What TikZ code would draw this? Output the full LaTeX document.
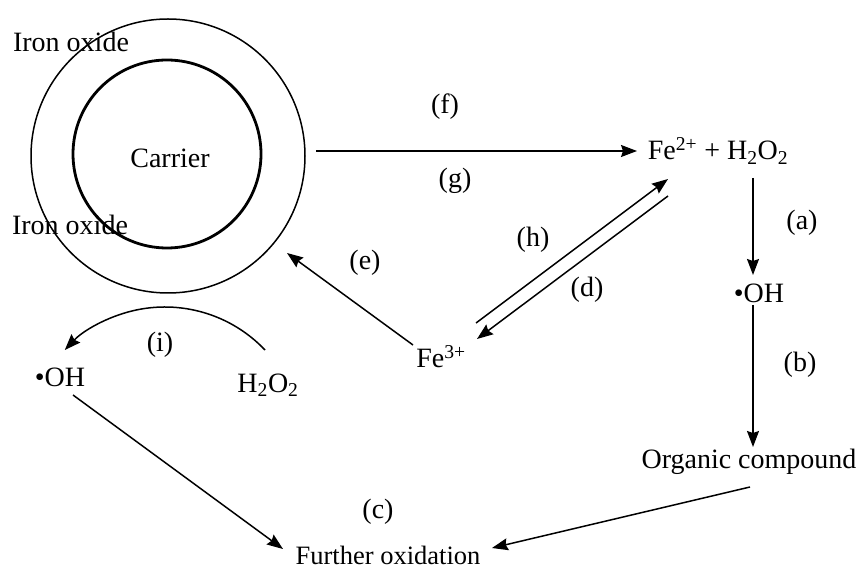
\documentclass[tikz,border=0pt]{standalone}
\usepackage{fontspec}
\setmainfont{Liberation Serif}
\usetikzlibrary{arrows.meta}
\begin{document}
\begin{tikzpicture}[x=1pt,y=1pt,
  lbl/.style={inner sep=1pt,font=\fontsize{28}{32}\selectfont},
  arr/.style={line width=1.5pt,-{Stealth[length=16pt,width=12pt,inset=2pt]}}]
\useasboundingbox (0,0) rectangle (860,571);
\fill[white] (0,0) rectangle (860,571);
% circles
\node[circle,draw,line width=1.5pt,minimum size=274pt,inner sep=0pt] (outer) at (168,415) {};
\node[circle,draw,line width=2.8pt,minimum size=188pt,inner sep=0pt] (inner) at (167,417) {};
\node[lbl] (carrier) at (170,413) {Carrier};
\node[lbl] (iron1) at (71,529) {Iron oxide};
\node[lbl] (iron2) at (70,346) {Iron oxide};
% species
\node[lbl] (fe2) at (718,420) {Fe\textsuperscript{2+} + H\textsubscript{2}O\textsubscript{2}};
\node[lbl] (oh1) at (759,278) {\textbullet OH};
\node[lbl] (org) at (749,109) {Organic compound};
\node[lbl] (fe3) at (441,214) {Fe\textsuperscript{3+}};
\node[lbl] (oh2) at (60,194) {\textbullet OH};
\node[lbl] (h2o2b) at (268,186) {H\textsubscript{2}O\textsubscript{2}};
\node[lbl,font=\fontsize{26.5}{30}\selectfont] (further) at (388,16) {Further oxidation};
% labels
\node[lbl] (lf) at (445,464) {(f)};
\node[lbl] (lg) at (455,390) {(g)};
\node[lbl] (la) at (802,348) {(a)};
\node[lbl] (lb) at (800,206) {(b)};
\node[lbl] (lh) at (533,331) {(h)};
\node[lbl] (ld) at (587,281) {(d)};
\node[lbl] (le) at (365,308) {(e)};
\node[lbl] (li) at (160,226) {(i)};
\node[lbl] (lc) at (378,59) {(c)};
% connectors
\draw[arr] ([shift={(148,5)}]outer.center) -- ([shift={(-81,0)}]fe2.center);
\draw[arr] ([shift={(35,-27)}]fe2.center) -- ([shift={(-6,18)}]oh1.center);
\draw[arr] ([shift={(-6,-12)}]oh1.center) -- ([shift={(4,15)}]org.center);
\draw[arr] ([shift={(35,34)}]fe3.center) -- ([shift={(-50,-28)}]fe2.center);
\draw[arr] ([shift={(-50,-45)}]fe2.center) -- ([shift={(36,18)}]fe3.center);
\draw[arr] ([shift={(-28,12)}]fe3.center) -- ([shift={(119,-97)}]outer.center);
\draw[arr] ([shift={(1,-25)}]org.center) -- ([shift={(104,7)}]further.center);
\draw[arr] ([shift={(13,-18)}]oh2.center) -- ([shift={(-105,6)}]further.center);
\coordinate (iR) at ([shift={(-3,35)}]h2o2b.center);
\draw[arr] (iR) arc[start angle=43.5,end angle=136.5,radius=138];
\end{tikzpicture}
\end{document}
